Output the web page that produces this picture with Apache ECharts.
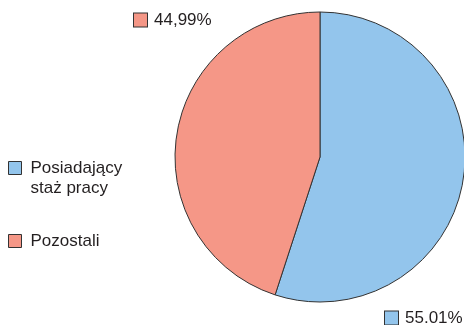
<!DOCTYPE html>
<html>
<head>
<meta charset="utf-8">
<script src="https://cdn.jsdelivr.net/npm/echarts@6/dist/echarts.min.js"></script>
<style>html,body{margin:0;padding:0;background:#fff}#c{width:464px;height:325px}</style>
</head>
<body>
<div id="c"></div>
<script>
var categories = ['Posiadający\nstaż pracy', 'Pozostali'];
var values = [55.01, 44.99];
var valueLabels = ['55.01%', '44,99%'];
var colors = ['#93c5ec', '#f59787'];

var labelPos = [{x: 385, y: 318}, {x: 134, y: 20}];
var FONT = 'Liberation Sans, Arial, sans-serif';

var chart = echarts.init(document.getElementById('c'), null, {renderer: 'canvas'});
chart.setOption({
  animation: false,
  backgroundColor: '#fff',
  legend: {
    orient: 'vertical',
    left: 3,
    top: 133,
    padding: 5,
    itemWidth: 13,
    itemHeight: 13,
    itemGap: 33,
    icon: 'rect',
    selectedMode: false,
    itemStyle: {borderColor: '#333', borderWidth: 1},
    formatter: function (name) { return name.indexOf('\n') >= 0 ? '\n' + name : name; },
    textStyle: {fontFamily: FONT, fontSize: 17, color: '#231f20', lineHeight: 20, padding: [0, 0, 0, 4]},
    data: categories
  },
  series: [{
    type: 'pie',
    center: [320, 157],
    radius: 145,
    startAngle: 90,
    clockwise: true,
    silent: true,
    itemStyle: {borderColor: '#333', borderWidth: 1},
    labelLine: {show: false},
    label: {
      show: true,
      position: 'outside',
      overflow: 'none',
      formatter: function (p) { return '{sq|}{t|' + valueLabels[p.dataIndex] + '}'; },
      rich: {
        sq: {width: 13, height: 13, borderColor: '#333', borderWidth: 1, backgroundColor: 'inherit'},
        t: {fontFamily: FONT, fontSize: 17, color: '#231f20', padding: [0, 0, 0, 7]}
      }
    },
    labelLayout: function (p) {
      var pos = labelPos[p.dataIndex];
      return {x: pos.x, y: pos.y, align: 'left', verticalAlign: 'middle', width: 100};
    },
    data: categories.map(function (c, i) {
      return {name: c, value: values[i], itemStyle: {color: colors[i]},
        label: {rich: {sq: {backgroundColor: colors[i]}}}};
    })
  }]
});
</script>
</body>
</html>
